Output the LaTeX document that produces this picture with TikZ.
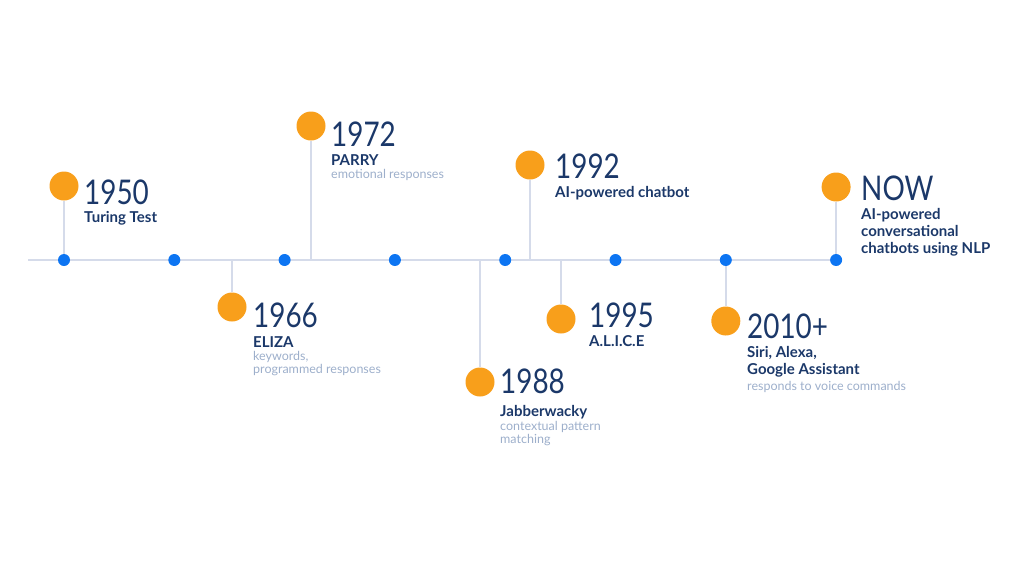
\documentclass[tikz,border=0pt]{standalone}
\usepackage{fontspec}
\setmainfont{Lato}
\newfontfamily\yearfont[FakeStretch=0.82]{Lato}
\usetikzlibrary{backgrounds}
\definecolor{navy}{HTML}{1B3869}
\definecolor{greyblue}{HTML}{9DAFCB}
\definecolor{ballorange}{HTML}{F89F1B}
\definecolor{dotblue}{HTML}{0D75F2}
\definecolor{axisgrey}{HTML}{D5DBEA}
\tikzset{
  axisdot/.style={circle, fill=dotblue, inner sep=0, minimum size=12pt},
  bigdot/.style={circle, fill=ballorange, inner sep=0, minimum size=29pt},
  stem/.style={draw=axisgrey, line width=2pt},
  year/.style={anchor=base west, inner sep=0, text=navy, font=\yearfont\fontsize{34}{34}\selectfont},
  headline/.style={anchor=base west, inner sep=0, align=left, text=navy, font=\fontsize{15}{17}\selectfont\bfseries},
  subnote/.style={anchor=base west, inner sep=0, align=left, text=greyblue, font=\fontsize{12.5}{13}\selectfont}
}
\begin{document}
\begin{tikzpicture}[x=1pt,y=-1pt]
    \useasboundingbox (0,0) rectangle (1024,560);
    % dots on the axis
    \foreach \i in {1,...,8}
        \node[axisdot] (d\i) at ({64+110.3*(\i-1)},260) {};
    \coordinate (start) at (28,260);
    \coordinate (a1966) at (232,260);
    \coordinate (a1972) at (311,260);
    \coordinate (a1988) at (480,260);
    \coordinate (a1992) at (530,260);
    \coordinate (a1995) at (561,260);
    % events
    \node[bigdot] (b1950) at (d1 |- 0,186) {};
    \node[bigdot] (b1966) at (232,307) {};
    \node[bigdot] (b1972) at (311,126) {};
    \node[bigdot] (b1988) at (480,382) {};
    \node[bigdot] (b1992) at (530,165) {};
    \node[bigdot] (b1995) at (561,319) {};
    \node[bigdot] (b2010) at (d7 |- 0,321) {};
    \node[bigdot] (bnow) at (d8 |- 0,187) {};
    % texts (multi-line nodes sit on their last line)
    \node[year] (y1950) at (84,204) {1950};
    \node[headline] (h1950) at (84,222) {Turing Test};
    \node[year] (y1966) at (253,327) {1966};
    \node[headline] (h1966) at (253,347) {ELIZA};
    \node[subnote] (n1966) at (253,373) {keywords,\\programmed responses};
    \node[year] (y1972) at (331,146) {1972};
    \node[headline] (h1972) at (331,165) {PARRY};
    \node[subnote] (n1972) at (331,178) {emotional responses};
    \node[year] (y1988) at (500,393) {1988};
    \node[headline] (h1988) at (500,416) {Jabberwacky};
    \node[subnote] (n1988) at (500,443) {contextual pattern\\matching};
    \node[year] (y1992) at (555,178) {1992};
    \node[headline] (h1992) at (555,197) {AI-powered chatbot};
    \node[year] (y1995) at (589,327) {1995};
    \node[headline] (h1995) at (589,346) {A.L.I.C.E};
    \node[year] (y2010) at (747,338) {2010+};
    \node[headline] (h2010) at (747,374) {Siri, Alexa,\\Google Assistant};
    \node[subnote] (n2010) at (747,390) {responds to voice commands};
    \node[year] (ynow) at (861,200) {NOW};
    \node[headline] (hnow) at (861,253) {AI-powered\\conversational\\chatbots using NLP};
    % axis and stems
    \begin{scope}[on background layer]
        \draw[stem] (start) -- (d8);
        \draw[stem] (b1950) -- (d1);
        \draw[stem] (b1966) -- (a1966);
        \draw[stem] (b1972) -- (a1972);
        \draw[stem] (b1988) -- (a1988);
        \draw[stem] (b1992) -- (a1992);
        \draw[stem] (b1995) -- (a1995);
        \draw[stem] (b2010) -- (d7);
        \draw[stem] (bnow) -- (d8);
    \end{scope}
\end{tikzpicture}
\end{document}
